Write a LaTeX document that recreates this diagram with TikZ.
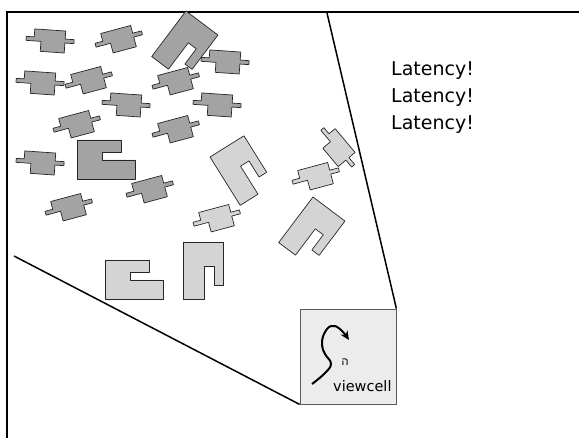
\documentclass[tikz,border=0pt]{standalone}
\usepackage{fontspec}
\usetikzlibrary{arrows.meta}
\TeXXeTstate=1
\newfontfamily\labelfont{DejaVu Sans}
\newfontfamily\hebfont[Script=Hebrew]{Liberation Sans}
\definecolor{darkobj}{gray}{0.64}
\definecolor{lightobj}{gray}{0.83}
\definecolor{cellfill}{gray}{0.925}
\definecolor{objline}{gray}{0.15}
\tikzset{
  car/.pic={\path[pic actions] (-24,-3) -- (-16,-3) -- (-16,-11) -- (15,-11) -- (15,-3) -- (24,-3) -- (24,1) -- (15,1) -- (15,11) -- (-9,11) -- (-9,1) -- (-24,1) -- cycle;},
  nshape/.pic={\path[pic actions] (0,0) -- (40,0) -- (40,43) -- (31,43) -- (31,24) -- (21,24) -- (21,57) -- (0,57) -- cycle;},
  cshape/.pic={\path[pic actions] (0,0) -- (44,0) -- (44,12) -- (25,12) -- (25,20) -- (58,20) -- (58,39) -- (0,39) -- cycle;},
  darkpart/.style={draw=objline, fill=darkobj, line width=0.7pt, line join=round},
  lightpart/.style={draw=objline, fill=lightobj, line width=0.7pt, line join=round},
  frameline/.style={line width=2pt},
  rayline/.style={line width=1.5pt},
  latency/.style={font=\labelfont\fontsize{19}{19}\selectfont, anchor=base west, inner sep=0pt},
}
\begin{document}
\begin{tikzpicture}[x=1pt,y=-1pt]
\useasboundingbox (0,0) rectangle (579,438);
% frame
\draw[frameline] (579,12) -- (7,12) -- (7,438);
% dark objects
\pic[darkpart, rotate=-4] at (50,41) {car};
\pic[darkpart, rotate=15] at (119,40) {car};
\pic[darkpart, rotate=-37] at (186,11) {nshape};
\pic[darkpart, rotate=-4] at (225,62) {car};
\pic[darkpart, rotate=-4] at (40,83) {car};
\pic[darkpart, rotate=15] at (89,81) {car};
\pic[darkpart, rotate=15] at (176,82) {car};
\pic[darkpart, rotate=-4] at (126,105) {car};
\pic[darkpart, rotate=-4] at (217,105) {car};
\pic[darkpart, rotate=15] at (77,125) {car};
\pic[darkpart, rotate=15] at (176,130) {car};
\pic[darkpart, rotate=-4] at (40,163) {car};
\pic[darkpart] at (77,140) {cshape};
\pic[darkpart, rotate=15] at (150,190) {car};
\pic[darkpart, rotate=15] at (69,208) {car};
% light objects
\pic[lightpart, rotate=32] at (210,157) {nshape};
\pic[lightpart, rotate=15] at (217,219) {car};
\pic[lightpart, rotate=-50] at (337,148) {car};
\pic[lightpart, rotate=15] at (316,177) {car};
\pic[lightpart, rotate=-37] at (313,197) {nshape};
\pic[lightpart] at (105,260) {cshape};
\pic[lightpart] at (183,242) {nshape};
% viewcell
\node[draw=black!65, fill=cellfill, line width=0.8pt, minimum width=96pt, minimum height=95pt, inner sep=0pt] (viewcell) at (348,356.5) {};
\coordinate (raytop) at (327,13);
\coordinate (rayleft) at (14,256);
\draw[rayline] (raytop) -- (viewcell.north east);
\draw[rayline] (rayleft) -- (viewcell.south west);
% path inside the viewcell
\draw[line width=2pt, -{Stealth[length=9pt,width=8pt]}] plot[smooth, tension=0.7] coordinates {(312,384) (324,374) (331,364) (325,354) (322,345) (324,334) (331,326) (340,329) (349,340)};
\node[font=\hebfont\fontsize{11}{11}\selectfont, inner sep=0pt] (eye) at (345,362) {\beginR ה\endR};
\node[font=\labelfont\fontsize{14.5}{14.5}\selectfont, anchor=base west, inner sep=0pt] (celllabel) at (333,392) {viewcell};
% latency text
\node[latency] (lat1) at (391,76) {Latency!};
\node[latency] (lat2) at (391,103) {Latency!};
\node[latency] (lat3) at (391,130) {Latency!};
\end{tikzpicture}
\end{document}
